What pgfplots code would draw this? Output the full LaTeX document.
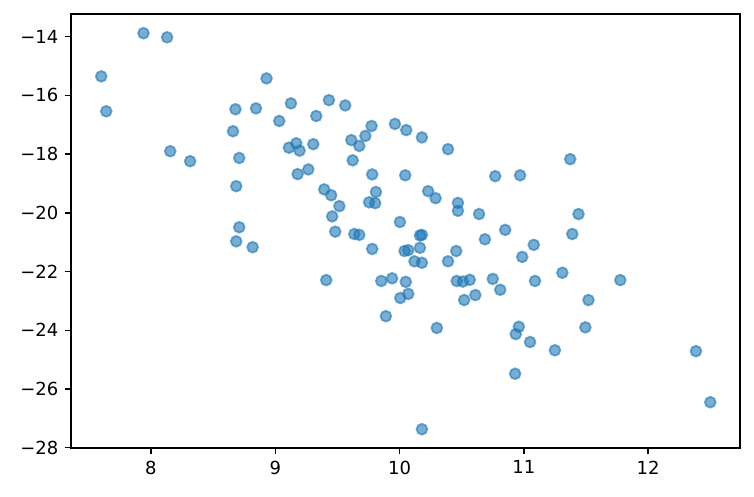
\documentclass[border=0pt]{standalone}
\usepackage{fontspec}
\setmainfont{DejaVu Sans}
\usepackage{pgfplots}
\pgfplotsset{compat=1.18}
\definecolor{tabblue}{HTML}{1F77B4}

\begin{document}
\begin{tikzpicture}
  \begin{axis}[
     scale only axis, width=371.7pt, height=241.1pt,
     xmin=7.356, xmax=12.739, ymin=-28.01, ymax=-13.227,
     xtick={8,9,10,11,12},
     ytick={-28,-26,-24,-22,-20,-18,-16,-14},
     yticklabels={−28,−26,−24,−22,−20,−18,−16,−14},
     /pgf/number format/assume math mode=true,
     tick align=outside, tick pos=left,
     major tick length=3.5pt,
     every tick/.style={black, line width=0.8pt},
     axis line style={line width=0.8pt},
     tick label style={font=\fontsize{10}{12}\selectfont},
     clip=false]
     \addplot [only marks, mark=*, mark size=3pt,
        mark options={fill=tabblue, draw=tabblue, line width=1pt,
                      fill opacity=0.6, draw opacity=0.6}] table {
x y
7.94 -13.88
8.13 -14.02
7.60 -15.35
7.64 -16.54
8.68 -16.47
8.66 -17.22
8.155 -17.90
8.315 -18.24
8.71 -18.13
8.686 -19.09
8.71 -20.49
8.93 -15.42
8.845 -16.44
9.126 -16.27
9.032 -16.87
9.432 -16.16
9.563 -16.34
9.33 -16.70
9.775 -17.04
9.963 -16.97
10.054 -17.18
9.612 -17.52
9.725 -17.38
9.676 -17.72
9.11 -17.78
9.169 -17.63
9.196 -17.88
9.306 -17.66
9.623 -18.21
9.18 -18.68
9.266 -18.52
9.78 -18.69
10.046 -18.72
9.394 -19.20
9.45 -19.40
9.516 -19.77
9.458 -20.12
9.81 -19.29
9.755 -19.64
9.804 -19.67
10.003 -20.31
10.18 -17.43
10.39 -17.83
11.373 -18.17
10.77 -18.75
10.97 -18.72
10.23 -19.26
10.29 -19.50
10.47 -19.66
10.47 -19.93
10.64 -20.04
11.44 -20.04
8.686 -20.97
8.818 -21.17
9.483 -20.64
9.636 -20.72
9.676 -20.75
9.78 -21.23
10.04 -21.30
10.07 -21.27
9.41 -22.29
9.853 -22.32
9.94 -22.23
10.05 -22.35
10.006 -22.90
10.07 -22.76
9.89 -23.52
10.18 -27.37
10.85 -20.58
11.39 -20.72
10.687 -20.90
10.164 -20.77
10.18 -20.75
10.164 -21.19
10.456 -21.30
10.39 -21.65
10.12 -21.65
10.18 -21.70
11.08 -21.09
10.987 -21.50
11.31 -22.04
11.09 -22.32
10.75 -22.25
10.81 -22.62
10.46 -22.32
10.51 -22.34
10.565 -22.28
10.61 -22.80
10.52 -22.97
11.52 -22.97
10.30 -23.92
10.96 -23.88
10.935 -24.13
11.05 -24.40
11.25 -24.68
11.495 -23.90
10.93 -25.48
11.776 -22.29
12.385 -24.71
12.50 -26.45
};
  \end{axis}
  \path (current axis.south west) ++(-39.4pt,-26.7pt);
  \path (current axis.north east) ++(7.8pt,7.8pt);
\end{tikzpicture}
\end{document}
